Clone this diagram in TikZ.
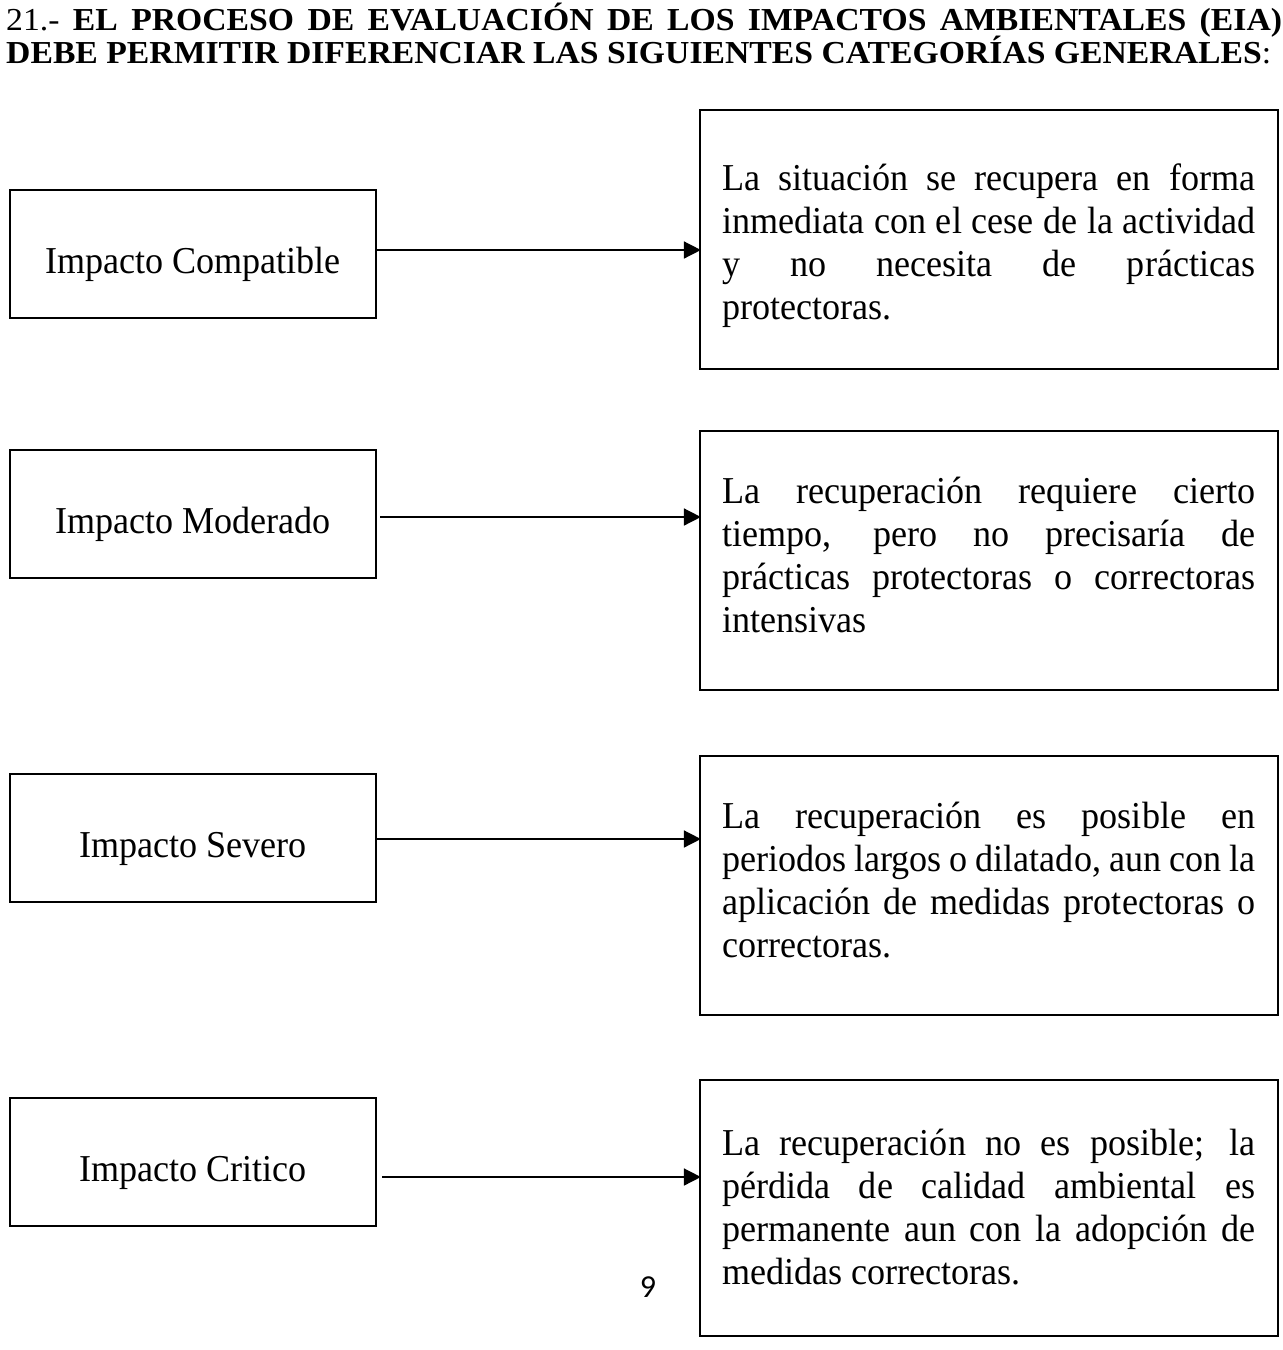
\documentclass[tikz,border=0pt]{standalone}
\usepackage{fontspec}
\setmainfont{Liberation Serif}
\newfontfamily\hdrfont[FakeStretch=1.053]{Liberation Serif}
\newfontfamily\bodyfont[FakeStretch=0.95]{Liberation Serif}
\newfontfamily\pgnfont{Carlito}
\usetikzlibrary{arrows.meta}

\newcommand{\jline}[1]{\hbox{\makebox[533pt][s]{#1}}}
\newcommand{\lline}[1]{\hbox{#1}}

\begin{document}
\begin{tikzpicture}[x=1pt,y=-1pt,
  leftbox/.style={draw, line width=2.2pt, minimum width=366pt, minimum height=128pt,
    inner sep=0pt, text height=39pt, text depth=0pt, font=\bodyfont\fontsize{38}{43}\selectfont},
  rightbox/.style={draw, line width=2.2pt, minimum width=578pt, minimum height=259pt, inner sep=0pt},
  bodytext/.style={anchor=base west, inner sep=0pt, font=\bodyfont\fontsize{38}{43}\selectfont},
  hdr/.style={anchor=base west, inner sep=0pt, font=\hdrfont\fontsize{32}{33}\selectfont},
  arr/.style={line width=1.6pt, -{Triangle[length=17pt,width=17pt]}, shorten >=-2pt}
]
\useasboundingbox (0,0) rectangle (1283,1350);

% header
\node[hdr] (h1) at (6,30) {\makebox[1276pt][s]{21.- \textbf{EL PROCESO DE EVALUACIÓN DE LOS IMPACTOS AMBIENTALES (EIA)}}};
\node[hdr] (h2) at (6,63) {\textbf{DEBE PERMITIR DIFERENCIAR LAS SIGUIENTES CATEGORÍAS GENERALES}:};

% left boxes
\node[leftbox] (c1) at (193,254) {Impacto Compatible};
\node[leftbox] (c2) at (193,514) {Impacto Moderado};
\node[leftbox] (c3) at (193,838) {Impacto Severo};
\node[leftbox] (c4) at (193,1162) {Impacto Critico};

% right boxes
\node[rightbox] (r1) at (989,239.5) {};
\node[rightbox] (r2) at (989,560.5) {};
\node[rightbox] (r3) at (989,885.5) {};
\node[rightbox, minimum height=256pt] (r4) at (989,1208) {};

\node[bodytext] (t1) at (722,190) {\vtop{\baselineskip=43pt
  \jline{La situación se recupera en forma}
  \jline{inmediata con el cese de la actividad}
  \jline{y no necesita de prácticas}
  \lline{protectoras.}}};
\node[bodytext] (t2) at (722,503) {\vtop{\baselineskip=43pt
  \jline{La recuperación requiere cierto}
  \jline{tiempo, pero no precisaría de}
  \jline{prácticas protectoras o correctoras}
  \lline{intensivas}}};
\node[bodytext] (t3) at (722,828) {\vtop{\baselineskip=43pt
  \jline{La recuperación es posible en}
  \jline{periodos largos o dilatado, aun con la}
  \jline{aplicación de medidas protectoras o}
  \lline{correctoras.}}};
\node[bodytext] (t4) at (722,1155) {\vtop{\baselineskip=43pt
  \jline{La recuperación no es posible; la}
  \jline{pérdida de calidad ambiental es}
  \jline{permanente aun con la adopción de}
  \lline{medidas correctoras.}}};

% connectors
\draw[arr] (c1.east |- 0,250) -- (r1.west |- 0,250);
\draw[arr, shorten <=3pt] (c2.east |- 0,517) -- (r2.west |- 0,517);
\draw[arr] (c3.east |- 0,839) -- (r3.west |- 0,839);
\draw[arr, shorten <=5pt] (c4.east |- 0,1177) -- (r4.west |- 0,1177);

% page number
\node[anchor=base, inner sep=0pt, font=\pgnfont\fontsize{32}{36}\selectfont] (pg) at (648,1297) {9};
\end{tikzpicture}
\end{document}
